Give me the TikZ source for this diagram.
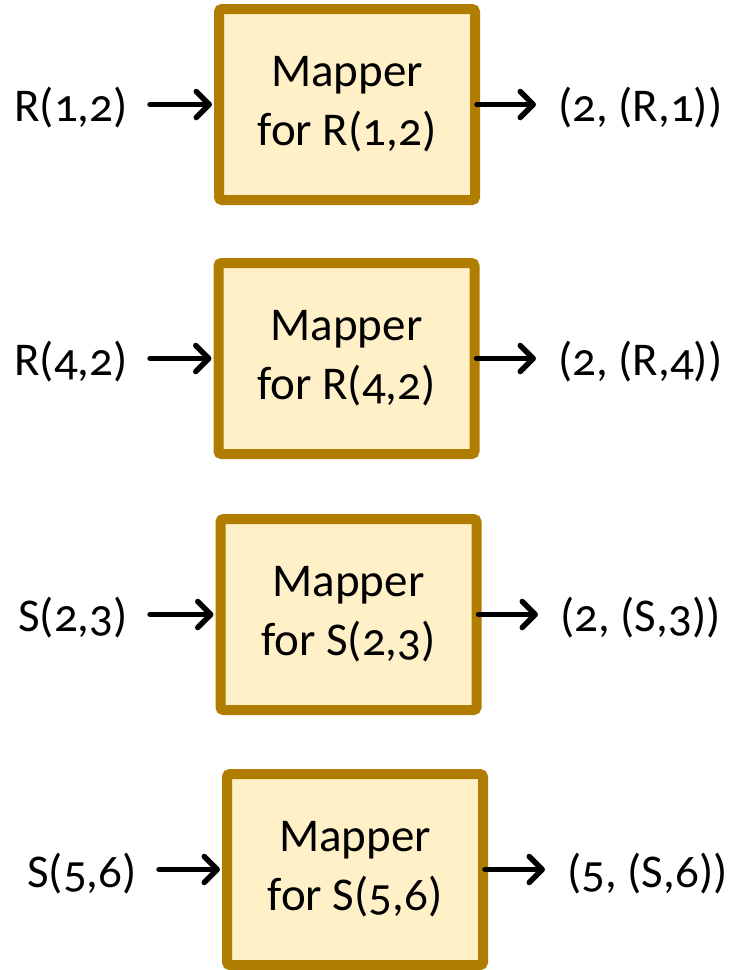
\documentclass[tikz,border=0pt]{standalone}
\usepackage{fontspec}
\setmainfont{Carlito}[Numbers=OldStyle]
\usetikzlibrary{arrows.meta}
\definecolor{mapedge}{RGB}{176,125,0}
\definecolor{mapfill}{RGB}{255,240,200}
\tikzset{
  mapbox/.style={draw=mapedge, fill=mapfill, line width=10pt, rounded corners=3pt,
    minimum width=256pt, minimum height=191pt, inner sep=0pt, align=center,
    font=\fontsize{47}{59}\selectfont},
  lbl/.style={inner sep=0pt, font=\fontsize{47}{56}\selectfont},
  flow/.style={line width=5.5pt, line cap=round,
    -{Straight Barb[length=13pt, width=26pt, line width=5.5pt, round]}}
}
\begin{document}
\begin{tikzpicture}[x=1pt, y=-1pt]
\useasboundingbox (0,0) rectangle (737,970);

% mapper boxes
\node[mapbox] (m1) at (347,104.5) {Mapper\\for R(1,2)};
\node[mapbox] (m2) at (346.5,358.5) {Mapper\\for R(4,2)};
\node[mapbox] (m3) at (348.5,614.5) {Mapper\\for S(2,3)};
\node[mapbox] (m4) at (355,869.5) {Mapper\\for S(5,6)};

% input records
\node[lbl, anchor=base east] (i1) at (128,121) {R(1,2)};
\node[lbl, anchor=base east] (i2) at (128,375) {R(4,2)};
\node[lbl, anchor=base east] (i3) at (128,631) {S(2,3)};
\node[lbl, anchor=base east] (i4) at (137,887) {S(5,6)};

% emitted key-value pairs
\node[lbl, anchor=base west] (o1) at (558,121) {(2, (R,1))};
\node[lbl, anchor=base west] (o2) at (558,375) {(2, (R,4))};
\node[lbl, anchor=base west] (o3) at (560,631) {(2, (S,3))};
\node[lbl, anchor=base west] (o4) at (567,887) {(5, (S,6))};

% arrows into and out of each mapper
\foreach \k in {1,2,3,4}{
  \draw[flow] ([xshift=22pt]i\k.east |- m\k.west) -- ([xshift=-2pt]m\k.west);
  \draw[flow] ([xshift=-3pt]m\k.east) -- ([xshift=-22pt]o\k.west |- m\k.east);
}
\end{tikzpicture}
\end{document}
